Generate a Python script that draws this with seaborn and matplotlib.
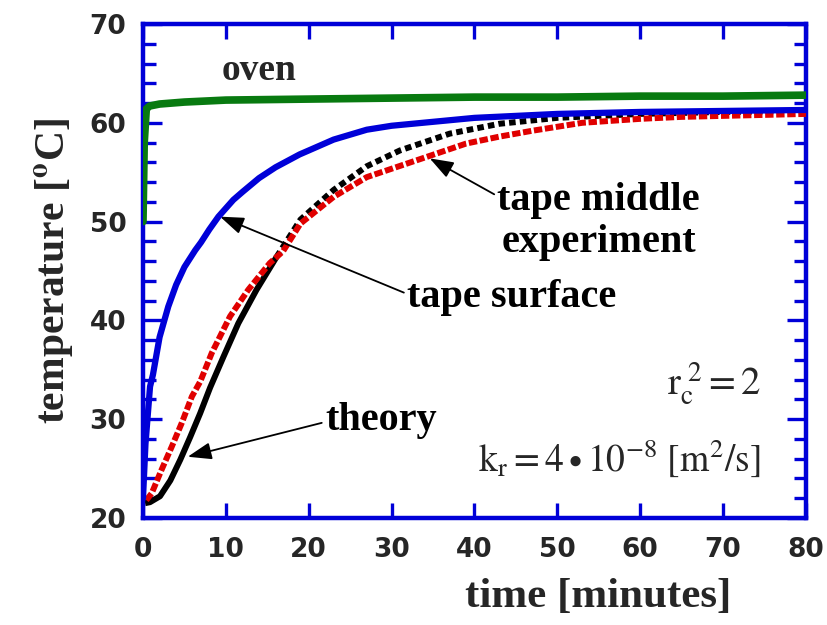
import matplotlib
matplotlib.use("Agg")
import matplotlib.pyplot as plt
import seaborn as sns
import numpy as np
import pandas as pd

# ---- data ----
oven_t = [0.0, 0.15, 0.4, 0.8, 2, 5, 10, 20, 30, 40, 50, 60, 70, 80]
oven_T = [50.0, 58.0, 61.4, 61.7, 61.9, 62.1, 62.3, 62.4, 62.5, 62.6, 62.6, 62.7, 62.7, 62.8]

surf_t = [0.0, 0.3, 0.85, 1.2, 2, 3.05, 4, 5, 6.3, 7, 8, 9.1, 10.9, 12, 14, 16, 18.9, 20,
          23, 27, 30, 35, 40, 45, 50, 60, 70, 80]
surf_T = [22.0, 27.5, 33.3, 34.5, 38.3, 41.4, 43.6, 45.4, 47.1, 47.9, 49.2, 50.5, 52.2,
          53.0, 54.4, 55.5, 56.8, 57.2, 58.3, 59.3, 59.7, 60.1, 60.5, 60.7, 60.9, 61.1, 61.2, 61.3]

exp_t = [0.4, 1.05, 2.25, 3.46, 4.67, 5.9, 6.9, 8.3, 10.5, 12.7, 15.3, 16.9, 19, 23, 27,
         33, 39, 43, 47, 53, 60, 65, 70, 80]
exp_T = [21.8, 22.5, 24.9, 27.2, 29.6, 32.3, 33.8, 36.7, 40.4, 43.1, 45.8, 47.0, 49.8,
         52.5, 54.5, 56.2, 57.9, 58.6, 59.2, 60.0, 60.4, 60.6, 60.7, 60.9]

theo_t = [0.25, 0.84, 2.05, 3.3, 4.5, 5.7, 6.9, 8.1, 9.7, 11.5, 13.7, 16.1, 19, 23, 27,
          31, 37, 43, 50, 60, 70, 80]
theo_T = [21.5, 21.6, 22.2, 23.8, 25.9, 28.2, 30.6, 33.2, 36.3, 39.7, 43.1, 46.4, 50.2,
          53.2, 55.6, 57.2, 58.9, 59.9, 60.5, 60.9, 61.1, 61.2]

x_ticks = [0, 10, 20, 30, 40, 50, 60, 70, 80]
y_ticks = [20, 30, 40, 50, 60, 70]

# ---- style ----
sns.set_style("white")
plt.rcParams["font.family"] = ["Liberation Serif", "DejaVu Serif"]
plt.rcParams["mathtext.fontset"] = "stix"

BLUE = "#0000d8"
RED = "#e00000"
GREEN = "#087a10"

fig = plt.figure(figsize=(8.28, 6.25), dpi=100)
ax = fig.add_axes([0.1727, 0.1712, 0.8007, 0.7904])

theo = pd.DataFrame({"t": theo_t, "T": theo_T})
split = 16.1
sns.lineplot(data=theo[theo.t <= split], x="t", y="T", ax=ax, color="black",
             lw=4.3, errorbar=None, solid_capstyle="butt", zorder=2)
sns.lineplot(data=theo[theo.t >= split], x="t", y="T", ax=ax, color="black",
             lw=4.3, errorbar=None, linestyle=(0, (1.1, 0.7)), zorder=2)
sns.lineplot(x=exp_t, y=exp_T, ax=ax, color=RED, lw=4.3, errorbar=None,
             linestyle=(0, (1.4, 0.45)), zorder=3)
sns.lineplot(x=surf_t, y=surf_T, ax=ax, color=BLUE, lw=4.5, errorbar=None, zorder=4)
sns.lineplot(x=oven_t, y=oven_T, ax=ax, color=GREEN, lw=5.5, errorbar=None, zorder=5)

ax.set_xlim(0, 80)
ax.set_ylim(20, 70)
ax.set_xticks(x_ticks)
ax.set_yticks(y_ticks)
ax.set_yticks(np.arange(20, 71, 2), minor=True)

for s in ax.spines.values():
    s.set_color(BLUE)
    s.set_linewidth(3.2)
    s.set_visible(True)

ax.tick_params(axis="both", which="major", direction="in", color=BLUE, width=2.4,
               top=True, right=True, bottom=True, left=True)
ax.tick_params(axis="x", which="major", length=11, pad=14)
ax.tick_params(axis="y", which="major", length=14, pad=12)
ax.tick_params(axis="y", which="minor", direction="in", color=BLUE, width=2.4,
               length=9, left=True, right=True)
ax.tick_params(axis="x", which="minor", bottom=False, top=False)

for lab in ax.get_xticklabels() + ax.get_yticklabels():
    lab.set_fontfamily("DejaVu Sans")
    lab.set_fontweight("bold")
    lab.set_fontsize(19)

ax.set_xlabel("time [minutes]", fontsize=31, fontweight="bold", va="top")
ax.xaxis.set_label_coords(0.686, -0.122)
ax.set_ylabel("temperature [$\\mathbf{^{o}}$C]", fontsize=30, fontweight="bold", labelpad=10)

tkw = dict(fontsize=29, fontweight="bold", color="black")
ax.text(14.0, 65.3, "oven", ha="center", va="center", fontsize=27, fontweight="bold")

arrow = dict(arrowstyle="-|>,head_length=0.5,head_width=0.18", color="black", lw=1.3,
             shrinkA=0, shrinkB=0)
ax.annotate("tape surface", xy=(9.3, 50.5), xytext=(44.5, 42.3), ha="center", va="center",
            arrowprops=dict(arrow, relpos=(0.0, 0.6)), **tkw)
ax.annotate("tape middle\nexperiment", xy=(34.6, 56.4), xytext=(55.0, 50.0), ha="center",
            va="center", linespacing=1.2, arrowprops=dict(arrow, relpos=(0.0, 0.82)), **tkw)
ax.annotate("theory", xy=(5.4, 26.2), xytext=(28.7, 29.9), ha="center", va="center",
            arrowprops=dict(arrow, relpos=(0.0, 0.45)), **tkw)

ax.text(74.5, 33.6, r"$\mathrm{r}_{\mathrm{c}}^{\ 2} = 2$", ha="right", va="center", fontsize=28)
ax.text(74.5, 26.1, r"$\mathrm{k}_{\mathrm{r}} = 4 \bullet 10^{-8}\ [\mathrm{m}^{2}/\mathrm{s}]$",
        ha="right", va="center", fontsize=27)

fig.savefig("out.png", dpi=100)
